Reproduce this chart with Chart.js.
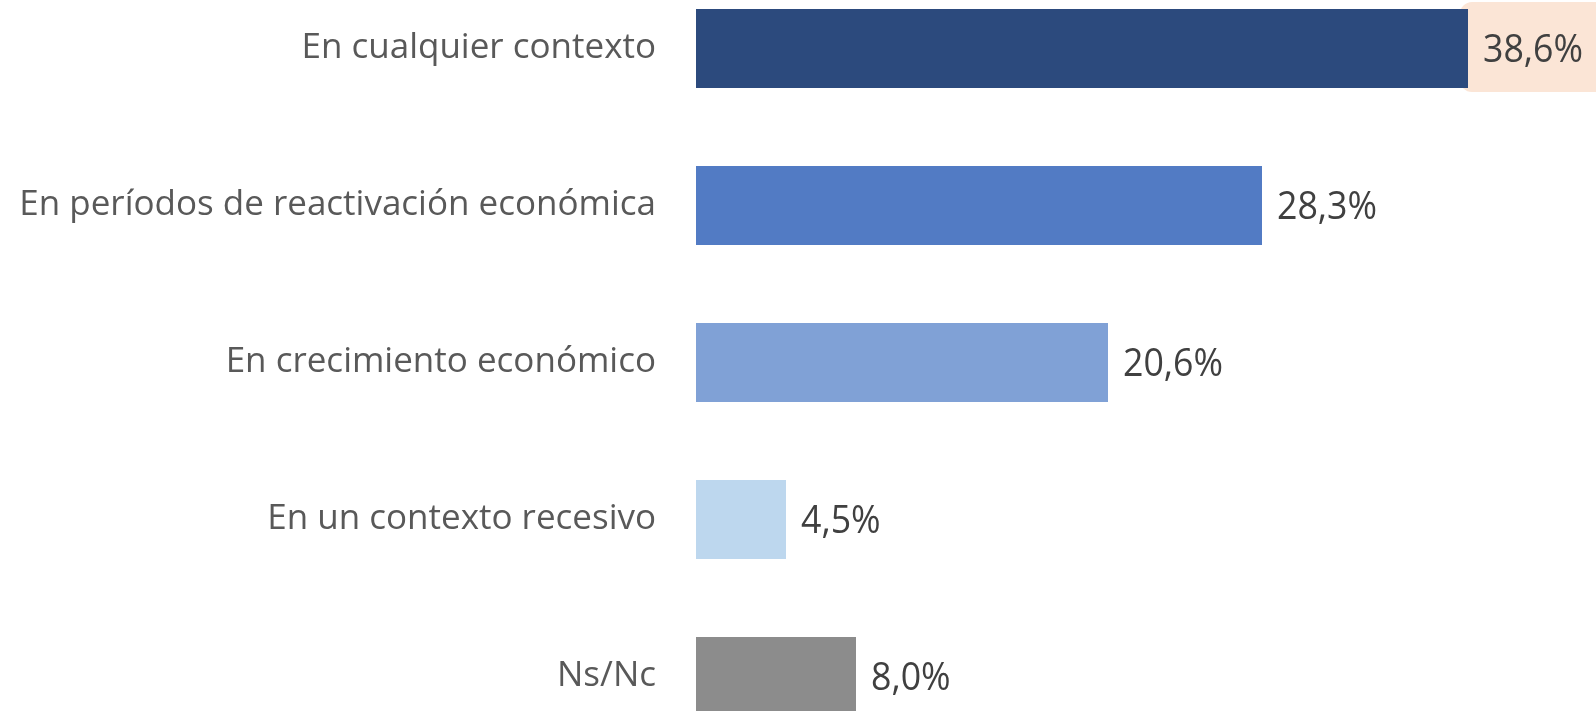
<!DOCTYPE html>
<html>
<head>
<meta charset="utf-8">
<script src="https://cdn.jsdelivr.net/npm/chart.js@4"></script>
<style>
	html, body { margin: 0; padding: 0; background: #fff; overflow: hidden; width: 1596px; height: 711px; }
	/* taller than the page: the first and last bars sit partly outside the view */
	#context-chart { position: absolute; left: 0; top: -51px; }
</style>
</head>
<body>
<canvas id="context-chart" width="1596" height="827"></canvas>
<script>
const categories = [
	'En cualquier contexto',
	'En períodos de reactivación económica',
	'En crecimiento económico',
	'En un contexto recesivo',
	'Ns/Nc'
];
const values = [38.6, 28.3, 20.6, 4.5, 8.0];
const barColors = ['#2C4A7D', '#527BC4', '#80A1D6', '#BDD7EE', '#8C8C8C'];
const highlighted = [true, false, false, false, false];

const fontFamily = "'Open Sans', 'Noto Sans', sans-serif";

function formatPct(v) {
	return v.toFixed(1).replace('.', ',') + '%';
}

// value labels at the end of each bar, with a soft box behind the highlighted one
const valueLabels = {
	id: 'valueLabels',
	beforeDatasetsDraw(chart) {
		const ctx = chart.ctx;
		const meta = chart.getDatasetMeta(0);
		meta.data.forEach((bar, i) => {
			if (!highlighted[i]) return;
			ctx.save();
			ctx.fillStyle = '#FBE5D6';
			ctx.beginPath();
			ctx.roundRect(bar.x - 8, bar.y - 46.5, chart.width - bar.x + 30, 90, 12);
			ctx.fill();
			ctx.restore();
		});
	},
	afterDatasetsDraw(chart) {
		const ctx = chart.ctx;
		const meta = chart.getDatasetMeta(0);
		meta.data.forEach((bar, i) => {
			ctx.save();
			ctx.font = `38px ${fontFamily}`;
			ctx.fillStyle = '#404040';
			ctx.textAlign = 'left';
			ctx.textBaseline = 'middle';
			// a touch condensed, like the original label face
			ctx.translate(bar.x + 15, bar.y + 3);
			ctx.scale(0.94, 1);
			ctx.fillText(formatPct(values[i]), 0, 0);
			ctx.restore();
		});
	}
};

function createContextChart() {
	const ctx = document.getElementById('context-chart').getContext('2d');
	new Chart(ctx, {
		type: 'bar',
		data: {
			labels: categories,
			datasets: [{
				data: values,
				backgroundColor: barColors,
				borderWidth: 0,
				barPercentage: 0.503,
				categoryPercentage: 1
			}]
		},
		options: {
			indexAxis: 'y',
			responsive: false,
			animation: false,
			layout: { padding: 0 },
			scales: {
				x: {
					min: 0,
					max: 45,
					display: false
				},
				y: {
					// gap between label and bar comes from the (hidden) tick length
					grid: { display: false, drawTicks: true, tickLength: 40 },
					border: { display: false },
					ticks: {
						color: '#595959',
						font: { family: fontFamily, size: 35 },
						padding: 0
					},
					afterFit(scale) {
						scale.width = 696;
					}
				}
			},
			plugins: {
				legend: { display: false },
				tooltip: { enabled: false }
			}
		},
		plugins: [valueLabels]
	});
}

window.onload = () => {
	createContextChart();
};
</script>
</body>
</html>
